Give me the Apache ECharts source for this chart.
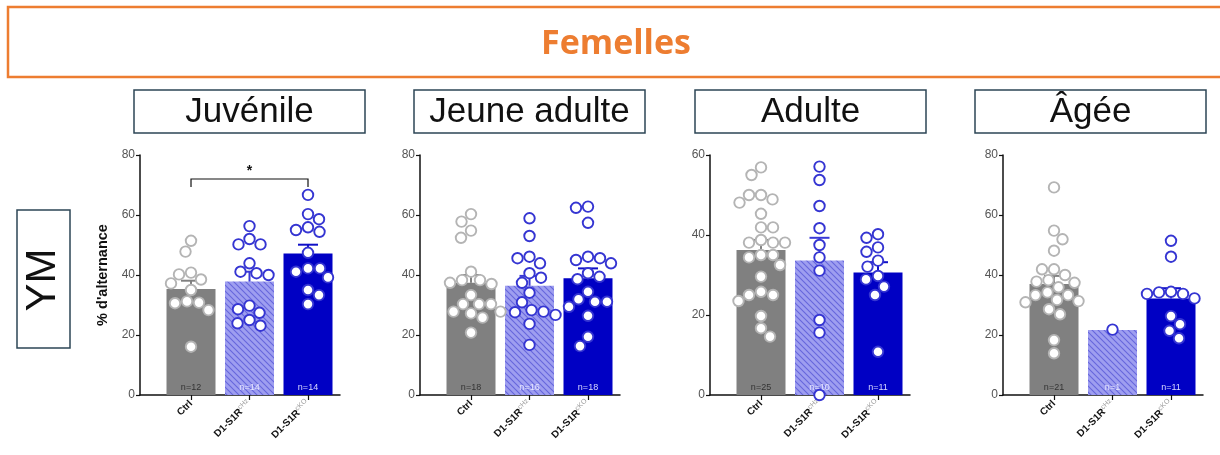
<!DOCTYPE html>
<html><head><meta charset="utf-8">
<script src="https://cdn.jsdelivr.net/npm/echarts@6/dist/echarts.min.js"></script>
<style>html,body{margin:0;padding:0;background:#fff}#c{width:1220px;height:455px}</style>
</head><body><div id="c"></div><script>
// ---------------- DATA ----------------
const mainTitle = 'Femelles';
const rowLabel = 'YM';
const yAxisTitle = "% d'alternance";
const panelTitles = ['Juvénile', 'Jeune adulte', 'Adulte', 'Âgée'];
const groupNames = ['Ctrl', 'D1-S1R', 'D1-S1R'];
const groupSup = ['', 'cHz', 'cKO'];
const yMaxes = [80, 80, 60, 80];
const yStep = 20;
const nCounts = [[12, 14, 14], [18, 16, 18], [25, 10, 11], [21, 1, 11]];
const barMeans = [[35.3, 37.8, 47.2], [37.4, 36.4, 38.9], [36.25, 33.6, 30.6], [37.0, 21.7, 32.2]];
const barSems = [[2.8, 3.3, 2.9], [2.6, 3.3, 3.3], [2.5, 5.7, 2.6], [2.7, 0, 3.4]];

const juvCtrl = [51.4, 47.8, 40.2, 40.8, 38.5, 37.2, 35.0, 30.8, 31.2, 30.6, 28.3, 16.1];
const juvHz = [56.3, 52.0, 50.2, 50.2, 43.9, 40.6, 41.1, 40.0, 29.8, 28.6, 27.4, 25.0, 23.9, 23.1];
const juvKO = [66.7, 58.6, 60.3, 54.4, 55.0, 55.9, 47.4, 42.2, 41.1, 42.2, 39.2, 35.0, 33.3, 30.3];

const jaCtrl = [60.3, 57.8, 54.8, 52.4, 41.1, 37.4, 38.3, 38.3, 37.0, 33.3, 30.3, 30.3, 30.3, 27.8, 27.8, 27.2, 25.8, 20.8];
const jaHz = [58.9, 53.0, 46.1, 45.6, 43.9, 40.6, 39.1, 37.4, 34.1, 30.9, 28.3, 27.8, 26.7, 27.6, 23.7, 16.7];
const jaKO = [62.8, 62.4, 57.4, 46.1, 45.0, 43.9, 45.6, 39.4, 40.6, 38.6, 34.4, 31.1, 31.9, 31.1, 29.4, 26.4, 19.4, 16.3];

const adCtrl = [56.9, 55.0, 50.0, 50.0, 48.1, 48.9, 45.3, 41.9, 41.9, 38.1, 38.1, 38.75, 38.1, 34.4, 35.0, 35.0, 32.5, 29.6, 25.8, 25.0, 25.0, 23.5, 19.75, 16.7, 14.6];
const adHz = [57.1, 53.75, 47.25, 41.7, 37.5, 34.4, 31.1, 18.75, 15.6, 0];
const adKO = [40.2, 39.3, 36.9, 35.8, 33.6, 32.1, 29.75, 28.9, 27.1, 25.0, 10.8];

const agCtrl = [69.2, 54.8, 51.9, 48.1, 41.9, 41.9, 40.0, 37.4, 38.3, 37.8, 34.2, 33.3, 33.3, 35.9, 30.9, 31.7, 31.3, 28.6, 26.9, 18.3, 13.9];
const agHz = [21.8];
const agKO = [51.4, 46.1, 33.7, 34.4, 34.2, 33.7, 32.2, 26.3, 23.6, 21.4, 18.9];

const panelPoints = [[juvCtrl, juvHz, juvKO], [jaCtrl, jaHz, jaKO], [adCtrl, adHz, adKO], [agCtrl, agHz, agKO]];
const juvSig = { from: 0, to: 2, y: 72, drop: 2.7, label: '*' };

// ---------------- LAYOUT / STYLE ----------------
const FONT = '"Liberation Sans", Arial, sans-serif';
const panelLeft = [140, 420, 710, 1003];
const gridTop = 155, gridH = 240, gridW = 200;
const xMin = -0.872, xMax = 2.547;
const pxPerX = gridW / (xMax - xMin);
const titleBoxX = [134, 414, 695, 975];
const ringColors = ['#b4b4b4', '#3535d2', '#3535d2'];
const errColors = ['#808080', '#3a3ad6', '#1010c8'];
const nColors = ['#333333', '#e6e6ff', '#d8d8ff'];

function hatch() {
  const c = document.createElement('canvas');
  c.width = 6; c.height = 6;
  const g = c.getContext('2d');
  g.fillStyle = '#9e9ef0'; g.fillRect(0, 0, 6, 6);
  g.strokeStyle = '#6666dc'; g.lineWidth = 1.1;
  g.beginPath();
  g.moveTo(0, 0); g.lineTo(6, 6);
  g.moveTo(-3, 3); g.lineTo(3, 9);
  g.moveTo(3, -3); g.lineTo(9, 3);
  g.stroke();
  return c;
}
const barColors = ['#808080', { image: hatch(), repeat: 'repeat' }, '#0000c4'];

function swarm(values, pxPerY, D) {
  const order = values.map((v, i) => i).sort((a, b) => values[b] - values[a]);
  const placed = [], off = new Array(values.length).fill(0);
  for (const i of order) {
    const y = values[i] * pxPerY;
    let best = null;
    for (let s = 0; s <= 80 && best === null; s += 0.5) {
      const cands = s === 0 ? [0] : (placed.length % 2 ? [-s, s] : [s, -s]);
      for (const c of cands) {
        if (placed.every(p => Math.hypot(p.x - c, p.y - y) >= D)) { best = c; break; }
      }
    }
    off[i] = best; placed.push({ x: best, y });
  }
  return off;
}

const grids = [], xAxes = [], yAxes = [], series = [], graphics = [];
panelPoints.forEach((groups, p) => {
  grids.push({ left: panelLeft[p], top: gridTop, width: gridW, height: gridH });
  xAxes.push({
    type: 'value', gridIndex: p, min: xMin, max: xMax,
    splitLine: { show: false },
    axisLine: { show: true, onZero: false, lineStyle: { color: '#111', width: 1.5 } },
    axisTick: { show: true, customValues: [0, 1, 2], length: 5, lineStyle: { color: '#111', width: 1.2 } },
    axisLabel: {
      customValues: [0, 1, 2], rotate: 45, margin: 7,
      formatter: v => { const i = Math.round(v); return groupSup[i] ? `{b|${groupNames[i]}}{s|${groupSup[i]}}` : `{b|${groupNames[i]}}`; },
      rich: {
        b: { fontSize: 10, fontWeight: 'bold', color: '#111', fontFamily: FONT },
        s: { fontSize: 7, color: '#9a9a9a', fontFamily: FONT, verticalAlign: 'top', padding: [0, 0, 6, 0] }
      }
    }
  });
  yAxes.push({
    type: 'value', gridIndex: p, min: 0, max: yMaxes[p], interval: yStep,
    splitLine: { show: false },
    axisLine: { show: true, onZero: false, lineStyle: { color: '#111', width: 1.5 } },
    axisTick: { show: true, length: 4, lineStyle: { color: '#111', width: 1.2 } },
    axisLabel: { fontSize: 12, color: '#555', fontFamily: FONT, margin: 5 },
    name: p === 0 ? yAxisTitle : '', nameLocation: 'middle', nameGap: 30, nameRotate: 90,
    nameTextStyle: { fontSize: 14.5, fontWeight: 'bold', color: '#111', fontFamily: FONT }
  });
  series.push({
    type: 'bar', xAxisIndex: p, yAxisIndex: p, barWidth: 49, z: 1,
    data: barMeans[p].map((m, i) => ({ value: [i, m], itemStyle: { color: barColors[i] }, label: { color: nColors[i] } })),
    label: {
      show: true, position: 'insideBottom', distance: 3, fontSize: 9, fontFamily: FONT,
      formatter: prm => 'n=' + nCounts[p][prm.dataIndex]
    }
  });
  series.push({
    type: 'custom', xAxisIndex: p, yAxisIndex: p, z: 2,
    data: barMeans[p].map((m, i) => [i, m, barSems[p][i]]),
    renderItem: (params, api) => {
      const x = api.value(0), m = api.value(1), s = api.value(2);
      if (!s) return null;
      const a = api.coord([x, m]), b = api.coord([x, m + s]);
      const c = errColors[params.dataIndex];
      return { type: 'group', children: [
        { type: 'line', shape: { x1: a[0], y1: a[1], x2: b[0], y2: b[1] }, style: { stroke: c, lineWidth: 2 } },
        { type: 'line', shape: { x1: b[0] - 10, y1: b[1], x2: b[0] + 10, y2: b[1] }, style: { stroke: c, lineWidth: 2 } }
      ] };
    }
  });
  const pxPerY = gridH / yMaxes[p];
  groups.forEach((vals, g) => {
    const off = swarm(vals, pxPerY, 12);
    series.push({
      type: 'scatter', xAxisIndex: p, yAxisIndex: p, z: 3,
      symbol: 'circle', symbolSize: 10.5,
      itemStyle: { color: '#ffffff', borderColor: ringColors[g], borderWidth: 1.9, opacity: 1 },
      data: vals.map((v, k) => [g + off[k] / pxPerX, v])
    });
  });
  graphics.push({ type: 'rect', shape: { x: titleBoxX[p], y: 90, width: 231, height: 43 },
    style: { fill: '#fff', stroke: '#2c4656', lineWidth: 1.5 } });
  graphics.push({ type: 'text', x: titleBoxX[p] + 115.5, y: 112,
    style: { text: panelTitles[p], font: '35px ' + FONT, fill: '#111', textAlign: 'center', textVerticalAlign: 'middle' } });
});

series.push({
  type: 'custom', xAxisIndex: 0, yAxisIndex: 0, z: 4,
  data: [[juvSig.from, juvSig.to, juvSig.y]],
  renderItem: (params, api) => {
    const a = api.coord([api.value(0), api.value(2)]);
    const b = api.coord([api.value(1), api.value(2)]);
    const d = api.coord([api.value(0), api.value(2) - juvSig.drop]);
    return { type: 'group', children: [
      { type: 'polyline', shape: { points: [[a[0], d[1]], a, b, [b[0], d[1]]] }, style: { stroke: '#111', lineWidth: 1.2, fill: null } },
      { type: 'text', x: (a[0] + b[0]) / 2, y: a[1] - 1, style: { text: juvSig.label, font: 'bold 14px ' + FONT, fill: '#111', textAlign: 'center', textVerticalAlign: 'bottom' } }
    ] };
  }
});

graphics.push({ type: 'rect', shape: { x: 8, y: 7, width: 1240, height: 70 }, style: { fill: 'none', stroke: '#ED7D31', lineWidth: 2.5 } });
graphics.push({ type: 'text', x: 616, y: 44, style: { text: mainTitle, font: 'bold 34px "Open Sans", sans-serif', fill: '#ED7D31', textAlign: 'center', textVerticalAlign: 'middle' } });
graphics.push({ type: 'rect', shape: { x: 17, y: 210, width: 53, height: 138 }, style: { fill: '#fff', stroke: '#2c4656', lineWidth: 1.5 } });
graphics.push({ type: 'text', x: 43.5, y: 280, rotation: Math.PI / 2, style: { text: rowLabel, font: '42px ' + FONT, fill: '#111', textAlign: 'center', textVerticalAlign: 'middle' } });

const chart = echarts.init(document.getElementById('c'), null, { renderer: 'canvas' });
chart.setOption({
  animation: false, backgroundColor: '#fff',
  grid: grids, xAxis: xAxes, yAxis: yAxes, series: series, graphic: graphics
});
</script></body></html>
